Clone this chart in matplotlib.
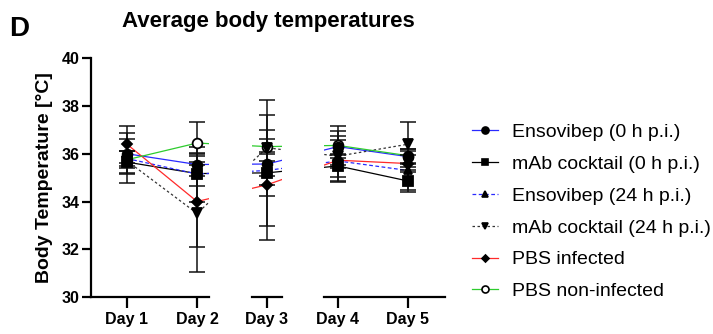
import matplotlib
matplotlib.use("Agg")
import matplotlib.pyplot as plt
from matplotlib.lines import Line2D

plt.rcParams['font.family'] = ['Liberation Sans', 'DejaVu Sans']

days = [1, 2, 3, 4, 5]
day_labels = ['Day 1', 'Day 2', 'Day 3', 'Day 4', 'Day 5']

# mean body temperature per group [°C]
ens0 = [36.0, 35.55, 35.57, 36.3, 35.88]
mab0 = [35.65, 35.17, 35.2, 35.49, 34.86]
ens24 = [35.8, 35.15, 35.3, 35.7, 35.3]
mab24 = [35.7, 33.5, 36.25, 35.9, 36.4]
pbs_inf = [36.4, 34.0, 34.7, 35.73, 35.59]
pbs_non = [35.75, 36.45, 36.3, 36.35, 35.92]

# standard deviations
ens0_sd = [0.86, 0.5, 0.5, 0.46, 0.3]
mab0_sd = [0.45, 0.5, 0.5, 0.45, 0.45]
ens24_sd = [0.3, 1.15, 2.33, 0.3, 0.8]
mab24_sd = [0.92, 2.47, 2.0, 1.07, 0.95]
pbs_inf_sd = [0.78, 1.92, 2.3, 0.85, 0.35]
pbs_non_sd = [0.35, 0.9, 0.3, 0.83, 0.3]

labels = ['Ensovibep (0 h p.i.)', 'mAb cocktail (0 h p.i.)',
          'Ensovibep (24 h p.i.)', 'mAb cocktail (24 h p.i.)',
          'PBS infected', 'PBS non-infected']

series = [
    (ens0, ens0_sd, '#2a2aff', '-', 'o', 'k'),
    (mab0, mab0_sd, 'black', '-', 's', 'k'),
    (ens24, ens24_sd, '#2a2aff', (0, (3, 2)), '^', 'k'),
    (mab24, mab24_sd, '#333333', (0, (2, 2)), 'v', 'k'),
    (pbs_inf, pbs_inf_sd, '#ff2a2a', '-', 'D', 'k'),
    (pbs_non, pbs_non_sd, '#2ecc2e', '-', 'o', 'white'),
]
# open circles sit beneath the filled markers
mzorder = [5, 5, 5, 5, 5, 4]

fig = plt.figure(figsize=(7.13, 3.34), dpi=100)

bottom, height = 0.1108, 0.7147
ax1 = fig.add_axes([0.1276, bottom, 0.1655, height])
ax2 = fig.add_axes([0.3534, bottom, 0.0421, height])
ax3 = fig.add_axes([0.4544, bottom, 0.1697, height])
axes = [ax1, ax2, ax3]
xlims = [(0.486, 2.17), (2.786, 3.214), (3.8, 5.53)]

msizes = {'o': 7, 's': 6.5, '^': 5.5, 'v': 6.5, 'D': 5}

for ax, xl in zip(axes, xlims):
    for (vals, sd, col, ls, mk, fc), mz in zip(series, mzorder):
        ax.plot(days, vals, color=col, ls=ls, lw=0.9, zorder=2)
        ax.errorbar(days, vals, yerr=sd, fmt='none', ecolor='#111111',
                    elinewidth=1.1, capsize=5.5, capthick=1.1, zorder=3)
        ax.plot(days, vals, ls='none', marker=mk, ms=msizes[mk],
                mfc=fc, mec='k', mew=1.3, zorder=mz)
    ax.set_facecolor('none')
    for s in ['top', 'right', 'left']:
        ax.spines[s].set_visible(False)
    ax.spines['bottom'].set_linewidth(1.6)
    ax.set_xticks(days)
    ax.set_xticklabels(day_labels, fontsize=11.5, fontweight='bold')
    ax.tick_params(axis='x', length=8, width=1.6, pad=3)
    ax.tick_params(axis='y', left=False, labelleft=False)
    # the broken x axis: each panel only shows its own stretch of days
    ax.set_xlim(xl)
    ax.set_ylim(30, 40)

ax1.spines['left'].set_visible(True)
ax1.spines['left'].set_linewidth(1.6)
ax1.set_yticks([30, 32, 34, 36, 38, 40])
ax1.set_ylim(30, 40)
ax1.tick_params(axis='y', left=True, labelleft=True, length=6.5, width=1.6,
                pad=2, labelsize=11.5)
for t in ax1.get_yticklabels():
    t.set_fontweight('bold')
ax1.set_ylabel('Body Temperature [°C]', fontsize=14, fontweight='bold',
               labelpad=6)

fig.text(268 / 713, 1 - 27 / 334, 'Average body temperatures',
         ha='center', va='baseline', fontsize=16, fontweight='bold')
fig.text(9 / 713, 1 - 36 / 334, 'D', ha='left', va='baseline',
         fontsize=20, fontweight='bold')

handles = []
for vals, sd, col, ls, mk, fc in series:
    handles.append(Line2D([], [], color=col, ls=ls, lw=0.9, marker=mk,
                          ms=msizes[mk] * 0.72, mfc=fc, mec='k', mew=1.2))
fig.legend(handles, labels, loc='upper left', bbox_to_anchor=(472 / 713, 0.630),
           frameon=False, fontsize=14, handlelength=1.32, handletextpad=0.75,
           labelspacing=0.73, borderaxespad=0, borderpad=0)

fig.savefig('out.png', dpi=100)
